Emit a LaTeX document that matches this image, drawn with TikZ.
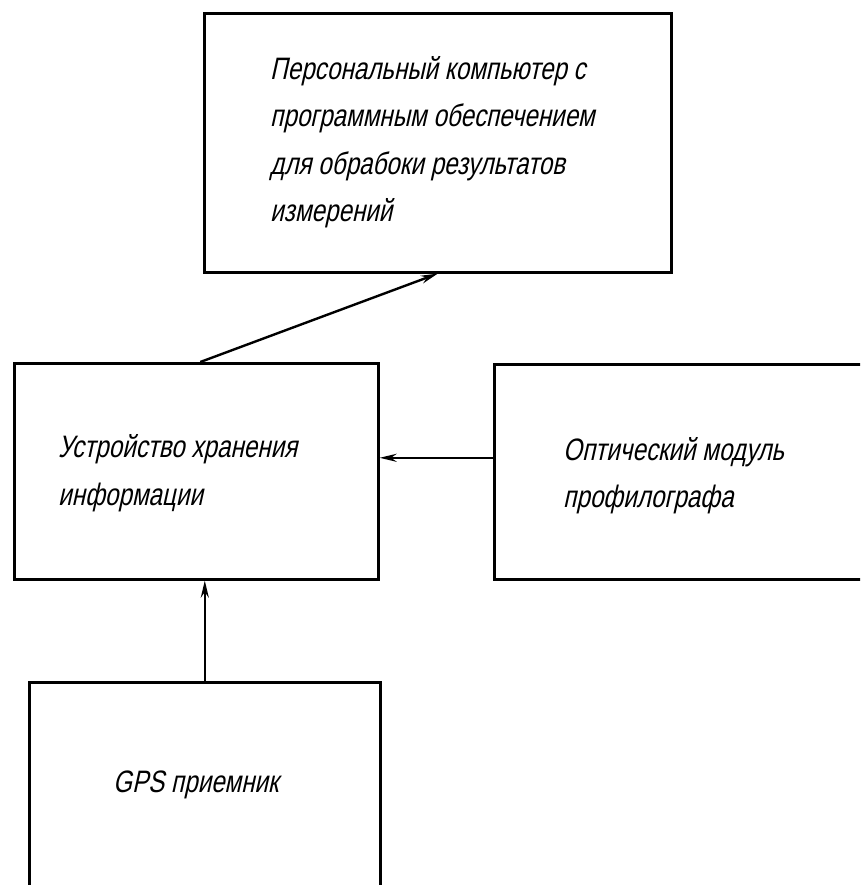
\documentclass[tikz,border=0pt]{standalone}
\usepackage{fontspec}
\setmainfont{Liberation Sans}[FakeSlant=0.22, FakeStretch=0.78]
\usetikzlibrary{arrows.meta}
\begin{document}
\begin{tikzpicture}[x=1pt,y=-1pt,
  box/.style={draw, line width=2.6pt, rectangle, inner sep=0pt, anchor=north west},
  lbl/.style={anchor=base west, inner sep=0pt, font=\fontsize{31}{47}\selectfont},
  conn/.style={line width=2.4pt, -{Stealth[length=17pt,width=8pt]}}]
\useasboundingbox (0,0) rectangle (860,885);
\clip (0,0) rectangle (860,885);
\node[box, minimum width=467pt, minimum height=259pt] (pc) at (203,12) {};
\node[box, minimum width=364pt, minimum height=216pt] (store) at (13,362) {};
\node[box, minimum width=420pt, minimum height=215pt] (opt) at (493,363) {};
\node[box, minimum width=351pt, minimum height=260pt] (gps) at (28,681) {};
\node[lbl] (pc1) at (270,80) {Персональный компьютер с};
\node[lbl] (pc2) at (270,127) {программным обеспечением};
\node[lbl] (pc3) at (270,175) {для обрабоки результатов};
\node[lbl] (pc4) at (270,222) {измерений};
\node[lbl] (st1) at (58,457) {Устройство хранения};
\node[lbl] (st2) at (58,505) {информации};
\node[lbl] (op1) at (563,460) {Оптический модуль};
\node[lbl] (op2) at (563,507) {профилографа};
\node[lbl] (gp1) at (113,792) {GPS приемник};
\draw[conn] ([xshift=4pt]store.north) -- (pc.south);
\coordinate (optin) at ([yshift=14pt]opt.west);
\draw[conn] (optin) -- (optin -| store.east);
\draw[conn] (gps.north) -- (gps.north |- store.south);
\end{tikzpicture}
\end{document}
